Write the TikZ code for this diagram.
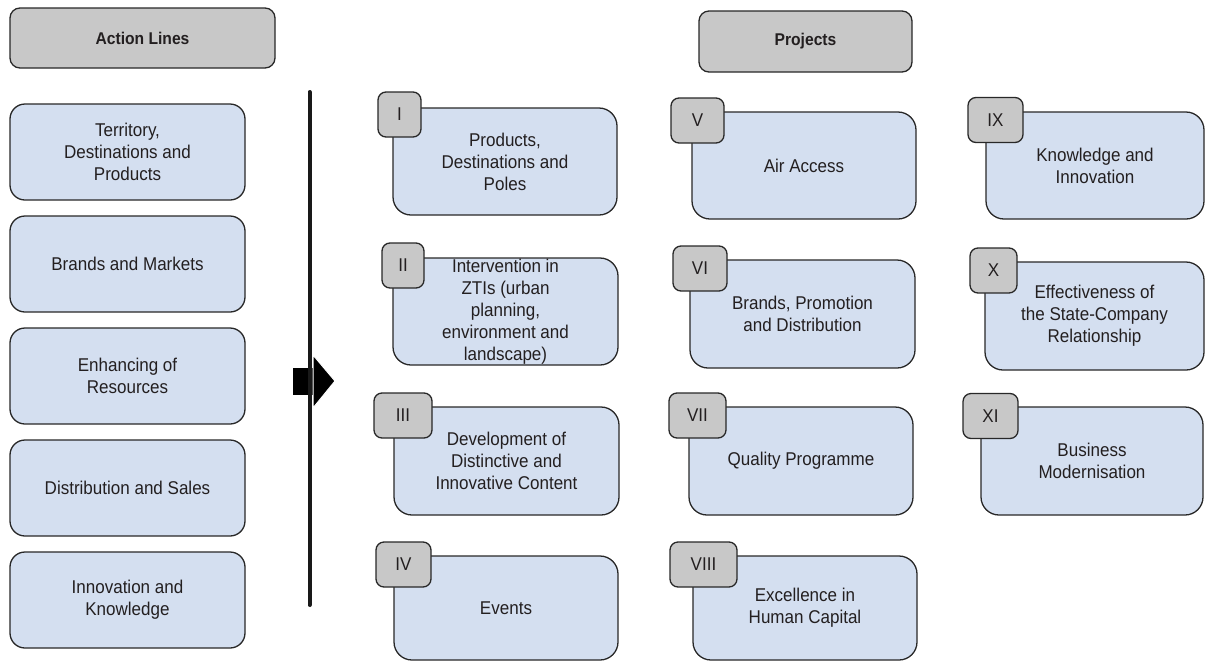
\documentclass[tikz,border=0pt]{standalone}
\usepackage{fontspec}
\setmainfont{Liberation Sans}[FakeStretch=0.92]
\definecolor{boxblue}{RGB}{212,223,240}
\definecolor{tabgray}{RGB}{200,200,200}
\definecolor{bordc}{RGB}{40,40,40}
\definecolor{txt}{RGB}{35,31,32}
\tikzset{
  base/.style={draw=bordc, line width=1.3pt, align=center, inner sep=0pt, text=txt,
    font=\fontsize{18.5}{22}\selectfont},
  head/.style={base, fill=tabgray, rounded corners=10pt, font=\fontsize{17}{20}\selectfont\bfseries},
  lbox/.style={base, fill=boxblue, rounded corners=15pt, minimum width=235pt, minimum height=96pt},
  pbox/.style={base, fill=boxblue, rounded corners=18pt},
  tabbox/.style={base, fill=tabgray, rounded corners=8pt, minimum height=45pt},
}
\begin{document}
\begin{tikzpicture}[x=1pt,y=-1pt]
\useasboundingbox (0,0) rectangle (1205,662);
% headers
\node[head, minimum width=265pt, minimum height=60pt] (hal) at (142.5,38) {Action Lines};
\node[head, minimum width=213pt, minimum height=61pt] (hpr) at (805.5,41.5) {Projects};
% action lines
\node[lbox] (a1) at (127.5,152) {Territory,\\Destinations and\\Products};
\node[lbox] (a2) at (127.5,264) {Brands and Markets};
\node[lbox] (a3) at (127.5,376) {Enhancing of\\Resources};
\node[lbox] (a4) at (127.5,488) {Distribution and Sales};
\node[lbox] (a5) at (127.5,600) {Innovation and\\Knowledge};
% divider and arrow
\fill[black] (293,368) rectangle (313,395);
\coordinate (ltop) at (309.5,92);
\coordinate (lbot) at (309.5,605);
\draw[line width=4pt, line cap=round, black!90] (ltop) -- (lbot);
\fill[black, draw=white, line width=1pt] (313,355) -- (335,381) -- (313,408) -- cycle;
% projects column 1
\node[pbox, minimum width=224pt, minimum height=107pt] (p1) at (505,161.5) {Products,\\Destinations and\\Poles};
\node[tabbox, minimum width=43pt] (t1) at (399.5,114.5) {I};
\node[pbox, minimum width=225pt, minimum height=107pt] (p2) at (505.5,311.5) {Intervention in\\ZTIs (urban\\planning,\\environment and\\landscape)};
\node[tabbox, minimum width=42pt] (t2) at (403,265.5) {II};
\node[pbox, minimum width=225pt, minimum height=108pt] (p3) at (506.5,461) {Development of\\Distinctive and\\Innovative Content};
\node[tabbox, minimum width=58pt] (t3) at (403,415.5) {III};
\node[pbox, minimum width=224pt, minimum height=104pt] (p4) at (506,608) {Events};
\node[tabbox, minimum width=55pt] (t4) at (403.5,564.5) {IV};
% projects column 2
\node[pbox, minimum width=224pt, minimum height=107pt] (p5) at (804,165.5) {Air Access};
\node[tabbox, minimum width=53pt] (t5) at (697.5,120.5) {V};
\node[pbox, minimum width=225pt, minimum height=108pt] (p6) at (802.5,314) {Brands, Promotion\\and Distribution};
\node[tabbox, minimum width=54pt] (t6) at (700,268.5) {VI};
\node[pbox, minimum width=224pt, minimum height=108pt] (p7) at (801,461) {Quality Programme};
\node[tabbox, minimum width=57pt] (t7) at (697.5,415.5) {VII};
\node[pbox, minimum width=224pt, minimum height=104pt] (p8) at (805,608) {Excellence in\\Human Capital};
\node[tabbox, minimum width=67pt] (t8) at (703.5,564.5) {VIII};
% projects column 3
\node[pbox, minimum width=218pt, minimum height=107pt] (p9) at (1095,165.5) {Knowledge and\\Innovation};
\node[tabbox, minimum width=55pt] (t9) at (995.5,120) {IX};
\node[pbox, minimum width=219pt, minimum height=108pt] (p10) at (1094.5,316) {Effectiveness of\\the State-Company\\Relationship};
\node[tabbox, minimum width=47pt] (t10) at (993.5,270.5) {X};
\node[pbox, minimum width=222pt, minimum height=108pt] (p11) at (1092,461) {Business\\Modernisation};
\node[tabbox, minimum width=55pt] (t11) at (990.5,416) {XI};
\end{tikzpicture}
\end{document}
